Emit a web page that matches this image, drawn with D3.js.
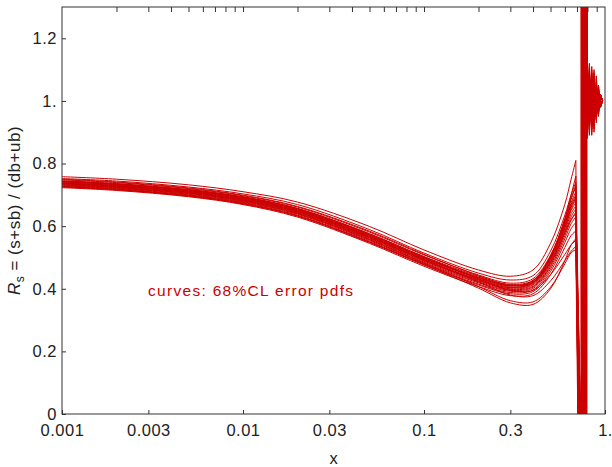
<!DOCTYPE html>
<html>
<head>
<meta charset="utf-8">
<script src="https://cdn.jsdelivr.net/npm/d3@7"></script>
<style>
  body { margin: 0; background: #fff; }
  svg { display: block; font-family: "Liberation Sans", Arial, sans-serif; }
</style>
</head>
<body>
<svg id="chart" width="612" height="467"></svg>
<script>
// x grid for the smooth part of every curve
const gridX = [0.001, 0.002, 0.005, 0.01, 0.02, 0.05, 0.1, 0.2, 0.3, 0.4, 0.5, 0.6, 0.65, 0.69]

// one row per error pdf curve, values at gridX
const curves = [
  [0.758,0.750,0.732,0.710,0.677,0.599,0.524,0.460,0.440,0.460,0.545,0.670,0.750,0.810],
  [0.752,0.744,0.725,0.703,0.669,0.589,0.514,0.450,0.428,0.442,0.520,0.635,0.700,0.740],
  [0.748,0.739,0.720,0.697,0.661,0.581,0.508,0.444,0.418,0.432,0.507,0.620,0.685,0.725],
  [0.745,0.736,0.717,0.694,0.657,0.576,0.503,0.440,0.414,0.427,0.503,0.615,0.675,0.710],
  [0.743,0.734,0.715,0.692,0.655,0.573,0.500,0.437,0.411,0.424,0.499,0.610,0.670,0.700],
  [0.741,0.732,0.713,0.690,0.652,0.570,0.498,0.435,0.409,0.421,0.496,0.606,0.665,0.695],
  [0.739,0.730,0.711,0.688,0.650,0.568,0.496,0.433,0.406,0.418,0.493,0.602,0.660,0.690],
  [0.737,0.728,0.709,0.686,0.648,0.565,0.493,0.430,0.403,0.415,0.489,0.597,0.655,0.685],
  [0.735,0.726,0.707,0.683,0.645,0.562,0.490,0.427,0.400,0.412,0.485,0.592,0.650,0.675],
  [0.733,0.724,0.705,0.681,0.643,0.560,0.488,0.425,0.398,0.408,0.480,0.585,0.640,0.665],
  [0.731,0.722,0.702,0.678,0.640,0.557,0.485,0.422,0.395,0.405,0.475,0.578,0.630,0.655],
  [0.729,0.720,0.700,0.676,0.638,0.554,0.482,0.419,0.392,0.401,0.470,0.570,0.620,0.645],
  [0.727,0.718,0.698,0.674,0.635,0.551,0.479,0.415,0.388,0.396,0.463,0.560,0.608,0.630],
  [0.725,0.716,0.696,0.671,0.632,0.548,0.476,0.412,0.384,0.391,0.455,0.548,0.592,0.612],
  [0.723,0.714,0.694,0.669,0.629,0.545,0.472,0.407,0.378,0.384,0.445,0.532,0.570,0.585],
  [0.744,0.735,0.716,0.693,0.656,0.575,0.502,0.432,0.395,0.395,0.445,0.510,0.540,0.555],
  [0.738,0.729,0.710,0.687,0.649,0.567,0.494,0.422,0.380,0.378,0.425,0.490,0.520,0.535],
  [0.732,0.723,0.704,0.680,0.641,0.557,0.482,0.407,0.362,0.358,0.405,0.480,0.515,0.525],
  [0.750,0.741,0.722,0.699,0.663,0.584,0.510,0.442,0.412,0.420,0.485,0.580,0.620,0.640],
  [0.736,0.727,0.708,0.684,0.646,0.564,0.492,0.429,0.404,0.420,0.500,0.620,0.690,0.730],
  [0.742,0.733,0.714,0.691,0.653,0.572,0.499,0.436,0.410,0.426,0.505,0.625,0.700,0.760],
  [0.726,0.717,0.697,0.672,0.633,0.549,0.477,0.402,0.355,0.350,0.400,0.490,0.540,0.560]
]

// where each curve dives below 0, and where it jumps back from far above the top
const dropX = [0.722,0.730,0.738,0.744,0.735,0.752,0.741,0.760,0.726,0.748,0.733,0.766,0.756,0.728,0.763,0.739,0.750,0.724,0.770,0.736,0.758,0.732]
const riseX = [0.745,0.773,0.758,0.788,0.740,0.779,0.753,0.792,0.767,0.737,0.782,0.761,0.794,0.748,0.776,0.756,0.785,0.742,0.790,0.764,0.770,0.750]
const dropY = -0.5
const riseY = 2.2

// oscillation close to x = 1
const tailX = [0.80, 0.82, 0.845, 0.87, 0.895, 0.92, 0.945, 0.97]
const tails = [
  [1.12,0.91,1.08,0.94,1.05,0.97,1.02,1.00],
  [0.88,1.10,0.92,1.07,0.96,1.03,0.99,1.00],
  [1.06,0.95,1.11,0.93,1.04,0.98,1.01,1.00],
  [0.93,1.07,0.90,1.06,0.95,1.03,0.99,1.00],
  [1.09,0.97,1.04,0.91,1.06,0.96,1.02,1.00],
  [0.96,1.12,0.94,1.05,0.93,1.04,0.98,1.00],
  [1.04,0.90,1.09,0.96,1.03,0.97,1.01,1.00],
  [0.91,1.05,0.97,1.10,0.94,1.02,0.99,1.00],
  [1.13,0.94,1.03,0.92,1.07,0.98,1.02,1.00],
  [0.95,1.08,0.89,1.04,0.97,1.05,0.99,1.00],
  [1.07,0.92,1.06,0.98,1.02,0.95,1.01,1.00],
  [0.90,1.03,0.95,1.09,0.96,1.02,0.98,1.00],
  [1.10,0.96,1.07,0.93,1.01,0.97,1.02,1.00],
  [0.94,1.11,0.91,1.03,0.98,1.04,0.99,1.00],
  [1.05,0.93,1.02,0.90,1.08,0.97,1.01,1.00],
  [0.92,1.06,0.98,1.08,0.95,1.03,0.99,1.00],
  [1.08,0.89,1.05,0.97,1.04,0.96,1.02,1.00],
  [0.97,1.09,0.93,1.02,0.94,1.05,0.98,1.00],
  [1.03,0.95,1.10,0.95,1.03,0.98,1.01,1.00],
  [0.89,1.04,0.96,1.06,0.97,1.02,0.99,1.00],
  [1.11,0.98,1.01,0.92,1.05,0.96,1.02,1.00],
  [0.96,1.07,0.92,1.04,0.99,1.03,0.98,1.00]
]

const xTicks = [0.001, 0.003, 0.01, 0.03, 0.1, 0.3, 1]
const xTickLabels = ["0.001", "0.003", "0.01", "0.03", "0.1", "0.3", "1."]
const yTicks = [0, 0.2, 0.4, 0.6, 0.8, 1.0, 1.2]
const yTickLabels = ["0", "0.2", "0.4", "0.6", "0.8", "1.", "1.2"]
const topMinorTicks = [0.002,0.003,0.004,0.005,0.006,0.007,0.008,0.009,0.01,
                       0.02,0.03,0.04,0.05,0.06,0.07,0.08,0.09,0.1,
                       0.2,0.3,0.4,0.5,0.6,0.7,0.8,0.9]

const red = "#cc0000"
const axisColor = "#333"

const plotL = 62, plotR = 605, plotT = 7, plotB = 414

const svg = d3.select("#chart")

const x = d3.scaleLog().domain([0.001, 1]).range([plotL, plotR])
const y = d3.scaleLinear().domain([0, 1.3]).range([plotB, plotT])

svg.append("clipPath").attr("id", "plotClip")
  .append("rect")
    .attr("x", plotL).attr("y", plotT)
    .attr("width", plotR - plotL).attr("height", plotB - plotT)

// smooth part uses a spline, the pole and the wiggles are straight segments
const smoothLine = d3.line()
  .x(d => x(d[0]))
  .y(d => y(d[1]))
  .curve(d3.curveCatmullRom.alpha(0.5))

const tailLine = d3.line()
  .x(d => x(d[0]))
  .y(d => y(d[1]))

const curvePaths = curves.map((vals, i) => {
  const smooth = gridX.map((gx, j) => [gx, vals[j]])
  const tail = [
    smooth[smooth.length - 1],
    [dropX[i], dropY],
    [riseX[i], dropY],   // off-chart, hidden by the clip
    [riseX[i], riseY]
  ]
  tailX.forEach((tx, j) => tail.push([tx, tails[i][j]]))
  return smoothLine(smooth) + tailLine(tail)
})

svg.append("g")
    .attr("clip-path", "url(#plotClip)")
  .selectAll(".curve")
  .data(curvePaths)
  .join("path")
    .attr("class", "curve")
    .attr("d", d => d)
    .attr("fill", "none")
    .attr("stroke", red)
    .attr("stroke-width", 1)
    .attr("stroke-linejoin", "round")

// bottom axis
const xAxis = d3.axisBottom(x)
  .tickValues(xTicks)
  .tickFormat((d, i) => xTickLabels[i])
  .tickSize(-4)
  .tickPadding(10)

const gx = svg.append("g")
  .attr("transform", `translate(0,${plotB})`)
  .call(xAxis)
gx.select(".domain").remove()

// left axis
const yAxis = d3.axisLeft(y)
  .tickValues(yTicks)
  .tickFormat((d, i) => yTickLabels[i])
  .tickSize(-4)
  .tickPadding(5)

const gy = svg.append("g")
  .attr("transform", `translate(${plotL},0)`)
  .call(yAxis)
gy.select(".domain").remove()

// top axis, minor log ticks only
const gt = svg.append("g")
  .attr("transform", `translate(0,${plotT})`)
  .call(d3.axisTop(x).tickValues(topMinorTicks).tickSize(-5).tickFormat(""))
gt.select(".domain").remove()

svg.selectAll(".tick line").attr("stroke", axisColor)
svg.selectAll(".tick text")
  .attr("fill", "#222")
  .style("font-size", "16.5px")
  .style("letter-spacing", "0.5px")

// frame
svg.append("rect")
  .attr("x", plotL).attr("y", plotT)
  .attr("width", plotR - plotL).attr("height", plotB - plotT)
  .attr("fill", "none")
  .attr("stroke", axisColor)
  .attr("stroke-width", 1)

// axis titles
svg.append("text")
  .attr("x", (plotL + plotR) / 2)
  .attr("y", 464)
  .attr("text-anchor", "middle")
  .attr("fill", "#222")
  .style("font-size", "16.5px")
  .text("x")

const yt = svg.append("text")
  .attr("transform", `translate(20,${(plotT + plotB) / 2}) rotate(-90)`)
  .attr("text-anchor", "middle")
  .attr("fill", "#222")
  .style("font-size", "17px")
  .style("letter-spacing", "0.5px")
yt.append("tspan").style("font-style", "italic").text("R")
yt.append("tspan").attr("dy", 4).style("font-size", "12px").text("s")
yt.append("tspan").attr("dy", -4).text(" = (s+sb) / (db+ub)")

// note
svg.append("text")
  .attr("x", 148)
  .attr("y", 296)
  .attr("fill", red)
  .style("font-size", "15.5px")
  .style("letter-spacing", "1.3px")
  .text("curves: 68%CL error pdfs")
</script>
</body>
</html>
